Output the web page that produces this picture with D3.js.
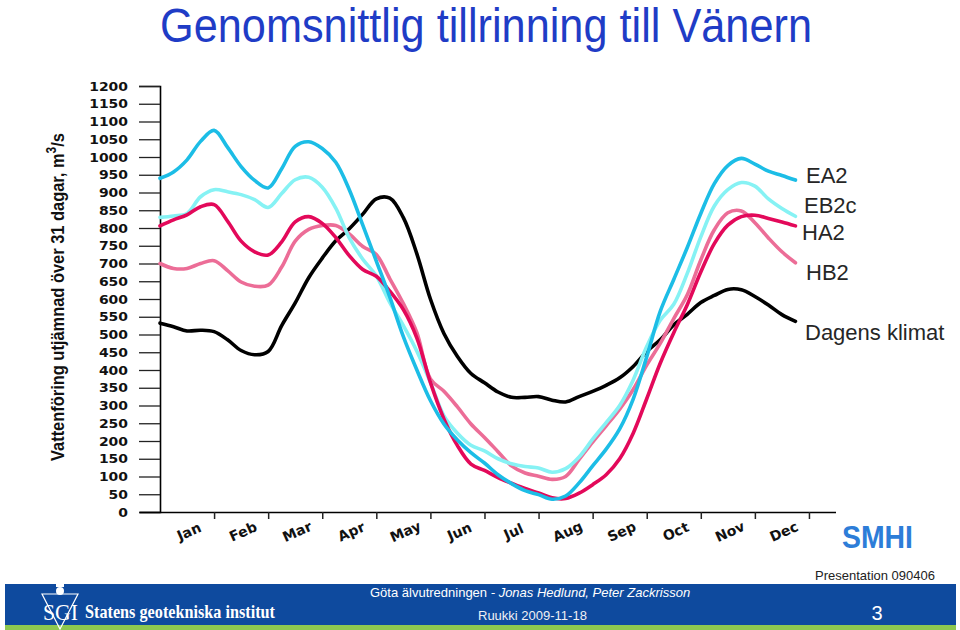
<!DOCTYPE html>
<html>
<head>
<meta charset="utf-8">
<script src="https://cdn.jsdelivr.net/npm/d3@7"></script>
<style>
  body { margin: 0; background: #fff; }
  svg { display: block; }
</style>
</head>
<body>
<div id="chart"></div>
<script>
// months on the x axis
const months = ['Jan', 'Feb', 'Mar', 'Apr', 'May', 'Jun', 'Jul', 'Aug', 'Sep', 'Oct', 'Nov', 'Dec']
// sample positions, in months from 1 Jan, every quarter month
const monthPos = d3.range(0, 11.76, 0.25)

// flow, m3/s at each monthPos
const ea2 = [940, 958, 992, 1044, 1075, 1027, 973, 934, 913, 967, 1030, 1043, 1024, 985, 908, 808,
  707, 605, 494, 400, 314, 248, 203, 167, 138, 105, 80, 60, 49, 36, 45, 82,
  130, 177, 234, 318, 437, 565, 655, 745, 841, 925, 976, 996, 980, 960, 948, 935]
const eb2c = [830, 834, 841, 888, 908, 902, 894, 880, 858, 897, 936, 943, 915, 856, 772, 712,
  665, 590, 525, 453, 365, 271, 222, 188, 172, 150, 136, 128, 124, 112, 122, 155,
  205, 252, 300, 372, 466, 540, 585, 672, 775, 862, 908, 928, 918, 882, 855, 833]
const ha2 = [806, 823, 837, 860, 866, 819, 763, 733, 724, 761, 817, 832, 813, 773, 722, 683,
  664, 622, 570, 490, 365, 262, 187, 135, 117, 97, 81, 66, 54, 40, 38, 53,
  77, 105, 150, 222, 319, 419, 505, 584, 676, 756, 808, 832, 836, 827, 817, 806]
const hb2 = [700, 686, 686, 700, 708, 680, 648, 636, 639, 690, 763, 796, 807, 807, 783, 748,
  725, 657, 587, 505, 375, 340, 296, 248, 210, 170, 130, 110, 101, 92, 100, 148,
  197, 243, 290, 345, 414, 475, 545, 612, 710, 795, 843, 848, 815, 772, 733, 702]
const dagens = [532, 522, 510, 512, 508, 485, 455, 443, 452, 525, 589, 660, 715, 764, 798, 839,
  882, 884, 829, 727, 600, 503, 438, 390, 364, 338, 323, 323, 325, 315, 310, 325,
  340, 357, 378, 410, 452, 485, 527, 557, 590, 610, 627, 626, 607, 583, 556, 537]

const seriesNames = ['EA2', 'EB2c', 'HA2', 'HB2', 'Dagens klimat']
const seriesValues = [ea2, eb2c, ha2, hb2, dagens]
const seriesColors = ['#1cbde6', '#86f2f4', '#e3095a', '#ec6d97', '#000000']
const yTicks = d3.range(0, 1201, 50)

const w = 960
const h = 630

const svg = d3.select('#chart').append('svg')
  .attr('width', w)
  .attr('height', h)
  .style('font-family', '"Liberation Sans", Arial, sans-serif')

const x = d3.scaleLinear().domain([0, 12.5]).range([160, 836])
const y = d3.scaleLinear().domain([0, 1200]).range([512, 86])

// title
svg.append('text')
  .attr('x', 486)
  .attr('y', 42)
  .attr('text-anchor', 'middle')
  .attr('fill', '#1f3cc6')
  .style('font-family', '"Liberation Sans Narrow", "Liberation Sans", sans-serif')
  .style('font-size', '48px')
  .attr('textLength', 652)
  .attr('lengthAdjust', 'spacingAndGlyphs')
  .text('Genomsnittlig tillrinning till Vänern')

// y axis
const yAxis = svg.append('g')
  .attr('transform', 'translate(160,0)')
  .call(d3.axisLeft(y).tickValues(yTicks).tickSize(21).tickPadding(11).tickFormat(d3.format('d')))
yAxis.select('.domain').attr('stroke', '#000').attr('stroke-width', 1.6)
yAxis.selectAll('.tick line').attr('stroke', '#222').attr('stroke-width', 1.3)
yAxis.selectAll('.tick text')
  .attr('fill', '#111')
  .style('font-family', '"DejaVu Sans", sans-serif')
  .style('font-weight', 'bold')
  .style('font-size', '12.5px')
  .attr('textLength', d => String(d).length * 9.7)
  .attr('lengthAdjust', 'spacingAndGlyphs')

// x axis
const xAxis = svg.append('g')
  .attr('transform', 'translate(0,512)')
  .call(d3.axisBottom(x).tickValues(d3.range(1, 13)).tickSize(7).tickFormat(''))
xAxis.select('.domain').attr('stroke', '#000').attr('stroke-width', 1.6)
  .attr('d', `M140,0.5H${x(12.5)}`)
xAxis.selectAll('.tick line').attr('stroke', '#222').attr('stroke-width', 1.5)

svg.append('g')
  .selectAll('text')
  .data(months)
  .join('text')
    .attr('transform', (d, i) => `translate(${x(i + 0.5) + 4},${536}) rotate(-24)`)
    .attr('text-anchor', 'middle')
    .attr('fill', '#111')
    .style('font-family', '"DejaVu Sans", sans-serif')
    .style('font-weight', 'bold')
    .style('font-size', '14px')
    .text(d => d)

// y label
const yLabel = svg.append('text')
  .attr('transform', 'translate(64,297) rotate(-90)')
  .attr('text-anchor', 'middle')
  .attr('fill', '#111')
  .style('font-weight', 'bold')
  .style('font-size', '19px')
  .attr('textLength', 328)
  .attr('lengthAdjust', 'spacingAndGlyphs')
yLabel.append('tspan').text('Vattenföring utjämnad över 31 dagar, m')
yLabel.append('tspan').attr('dy', -8).style('font-size', '14px').text('3')
yLabel.append('tspan').attr('dy', 8).text('/s')

// lines
const line = d3.line()
  .x((d, i) => x(monthPos[i]))
  .y(d => y(d))
  .curve(d3.curveCatmullRom.alpha(0.5))

const drawOrder = [4, 3, 1, 2, 0]
svg.append('g')
  .selectAll('path')
  .data(drawOrder)
  .join('path')
    .attr('d', k => line(seriesValues[k]))
    .attr('fill', 'none')
    .attr('stroke', k => seriesColors[k])
    .attr('stroke-width', 3.6)
    .attr('stroke-linejoin', 'round')
    .attr('stroke-linecap', 'round')

// legend labels beside the line ends
const labelPos = [[806, 183], [804, 213], [802, 240], [806, 280], [805, 340]]
svg.append('g')
  .selectAll('text')
  .data(seriesNames)
  .join('text')
    .attr('x', (d, i) => labelPos[i][0])
    .attr('y', (d, i) => labelPos[i][1])
    .attr('fill', '#262626')
    .style('font-size', '22px')
    .text(d => d)

// SMHI logo
svg.append('text')
  .attr('x', 842)
  .attr('y', 548)
  .attr('fill', '#2d7dd8')
  .style('font-weight', 'bold')
  .style('font-size', '32px')
  .attr('textLength', 71)
  .attr('lengthAdjust', 'spacingAndGlyphs')
  .text('SMHI')

svg.append('text')
  .attr('x', 935)
  .attr('y', 580)
  .attr('text-anchor', 'end')
  .attr('fill', '#222')
  .style('font-size', '13px')
  .text('Presentation 090406')

// footer band
svg.append('rect')
  .attr('x', 5).attr('y', 584).attr('width', 951).attr('height', 41)
  .attr('fill', '#0e4a9e')
svg.append('rect')
  .attr('x', 5).attr('y', 625).attr('width', 951).attr('height', 5)
  .attr('fill', '#8dc850')

const sgi = svg.append('g')
sgi.append('path')
  .attr('d', 'M42,594 H78 L60,629 Z')
  .attr('fill', 'none')
  .attr('stroke', '#fff')
  .attr('stroke-width', 1.2)
sgi.append('circle').attr('cx', 60).attr('cy', 591).attr('r', 4).attr('fill', '#fff')
sgi.append('rect').attr('x', 56).attr('y', 584).attr('width', 8).attr('height', 3).attr('fill', '#fff')
sgi.append('text')
  .attr('x', 43).attr('y', 620)
  .attr('fill', '#fff')
  .style('font-family', '"Liberation Serif", serif')
  .style('font-size', '24px')
  .attr('textLength', 35)
  .attr('lengthAdjust', 'spacingAndGlyphs')
  .text('SGI')
sgi.append('text')
  .attr('x', 85).attr('y', 618)
  .attr('fill', '#fff')
  .style('font-family', '"Liberation Serif", serif')
  .style('font-weight', 'bold')
  .style('font-size', '19px')
  .attr('textLength', 190)
  .attr('lengthAdjust', 'spacingAndGlyphs')
  .text('Statens geotekniska institut')

const credit = svg.append('text')
  .attr('x', 370).attr('y', 597)
  .attr('fill', '#fff')
  .style('font-size', '13px')
credit.append('tspan').text('Göta älvutredningen ')
credit.append('tspan').style('font-style', 'italic').text(' - Jonas Hedlund, Peter Zackrisson')

svg.append('text')
  .attr('x', 478).attr('y', 620)
  .attr('fill', '#f0f0f4')
  .style('font-size', '13px')
  .text('Ruukki 2009-11-18')

svg.append('text')
  .attr('x', 877).attr('y', 620)
  .attr('text-anchor', 'middle')
  .attr('fill', '#fff')
  .style('font-size', '20px')
  .text('3')
</script>
</body>
</html>
